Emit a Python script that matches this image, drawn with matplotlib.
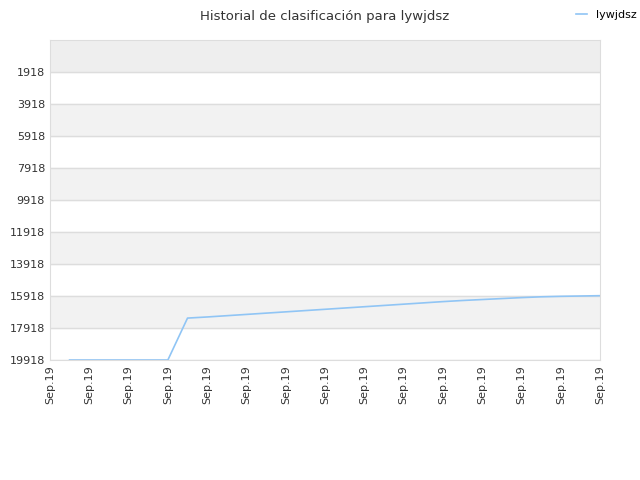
import matplotlib
matplotlib.use("Agg")
import matplotlib.pyplot as plt

# x positions in tick units (15 ticks labelled "Sep.19")
x_vals = [0.5, 1.0, 1.5, 2.0, 2.5, 3.0, 3.5, 4.0, 4.5, 5.0, 5.5, 6.0, 6.5, 7.0, 7.5,
          8.0, 8.5, 9.0, 9.5, 10.0, 10.5, 11.0, 11.5, 12.0, 12.5, 13.0, 13.5, 14.0]
ranks = [19918, 19918, 19918, 19918, 19918, 19918, 17300, 17230, 17150, 17070, 16990,
         16910, 16830, 16750, 16670, 16590, 16510, 16430, 16350, 16270, 16200, 16140,
         16080, 16020, 15970, 15940, 15920, 15900]
tick_labels = ["Sep.19"] * 15
yticks = [1918, 3918, 5918, 7918, 9918, 11918, 13918, 15918, 17918, 19918]

fig, ax = plt.subplots(figsize=(6.4, 4.8), dpi=100)
fig.subplots_adjust(left=0.078, right=0.938, top=0.917, bottom=0.25)

# alternating background bands
ax.axhspan(-82, 1918, color="#eeeeee", zorder=0)
for lo in [3918, 7918, 11918, 15918]:
    ax.axhspan(lo, lo + 2000, color="#f2f2f2", zorder=0)
for y in yticks:
    ax.axhline(y, color="#dddddd", lw=1, zorder=1)

ax.plot(x_vals, ranks, color="#90c5f5", lw=1.2, label="lywjdsz", zorder=2)

ax.set_ylim(19918, -82)
ax.set_xlim(0, 14)
ax.set_yticks(yticks)
ax.set_yticklabels([str(v) for v in yticks], fontsize=8, color="#333333")
ax.set_xticks(range(15))
ax.set_xticklabels(tick_labels, rotation=90, fontsize=8, color="#333333")
ax.tick_params(length=0)
for s in ax.spines.values():
    s.set_color("#dddddd")

ax.set_title("Historial de clasificación para lywjdsz", fontsize=9.5, color="#333333", pad=14)
fig.legend(loc="upper right", bbox_to_anchor=(1.01, 1.0), frameon=False, fontsize=8, handlelength=1)
fig.savefig("out.png")
